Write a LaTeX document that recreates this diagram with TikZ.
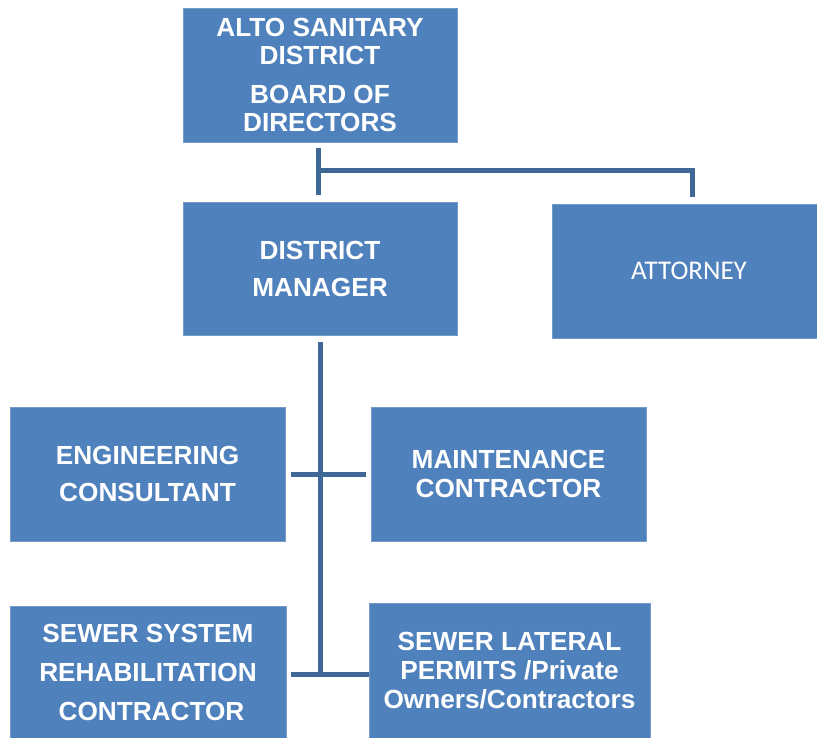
\documentclass[tikz,border=0pt]{standalone}
\usepackage{fontspec}
\setmainfont{Liberation Sans}
\newfontfamily\carl{Carlito}
\definecolor{boxblue}{HTML}{4F81BD}
\definecolor{linblue}{RGB}{64,104,150}
\begin{document}
\begin{tikzpicture}[x=1pt,y=-1pt,
  orgbox/.style={rectangle,fill=boxblue,draw=boxblue!80!white,line width=0.6pt,inner sep=0pt,align=center,text=white},
  bf/.style={font=\bfseries\fontsize{26.2}{#1}\selectfont},
  conn/.style={draw=linblue,line width=5pt}]
\useasboundingbox (0,0) rectangle (817,738);
\node[orgbox,bf=28.5,minimum width=274pt,minimum height=134pt] (top) at (320,75)
  {ALTO SANITARY\\DISTRICT\\[10pt]BOARD OF\\DIRECTORS};
\node[orgbox,bf=37,minimum width=274pt,minimum height=133pt] (dm) at (320,268.5)
  {DISTRICT\\MANAGER};
\node[orgbox,font=\carl\fontsize{27}{30}\selectfont,minimum width=265pt,minimum height=134pt] (att) at (684.5,271)
  {\hspace*{9pt}ATTORNEY};
\node[orgbox,bf=37,minimum width=275pt,minimum height=134pt] (eng) at (147.5,474)
  {ENGINEERING\\CONSULTANT};
\node[orgbox,bf=29.5,minimum width=275pt,minimum height=134pt] (mnt) at (508.5,474)
  {MAINTENANCE\\CONTRACTOR};
\node[orgbox,bf=39,minimum width=276pt,minimum height=132pt] (ssr) at (148,672)
  {SEWER SYSTEM\\REHABILITATION\\\hspace*{7pt}CONTRACTOR};
\node[orgbox,bf=29,minimum width=281pt,minimum height=135pt] (slp) at (509.5,670.5)
  {SEWER LATERAL\\PERMITS /Private\\Owners/Contractors};
% connectors
\coordinate (jt) at (318,171);
\coordinate (jb) at (320,674);
\draw[conn] ([xshift=-2pt,yshift=-6pt]top.south) -- ([xshift=-2pt,yshift=7pt]dm.north);
\draw[conn] ([xshift=-2.5pt]jt) -| ([xshift=7.5pt,yshift=7pt]att.north);
\draw[conn] ([yshift=-7pt]dm.south) -- ([yshift=-2.5pt]jb);
\draw[conn] ([xshift=6pt]eng.east) -- ([xshift=-5pt]mnt.west);
\path ([xshift=5pt]ssr.east) coordinate (ssre);
\draw[conn] (ssre |- jb) -- (slp.west |- jb);
\end{tikzpicture}
\end{document}
